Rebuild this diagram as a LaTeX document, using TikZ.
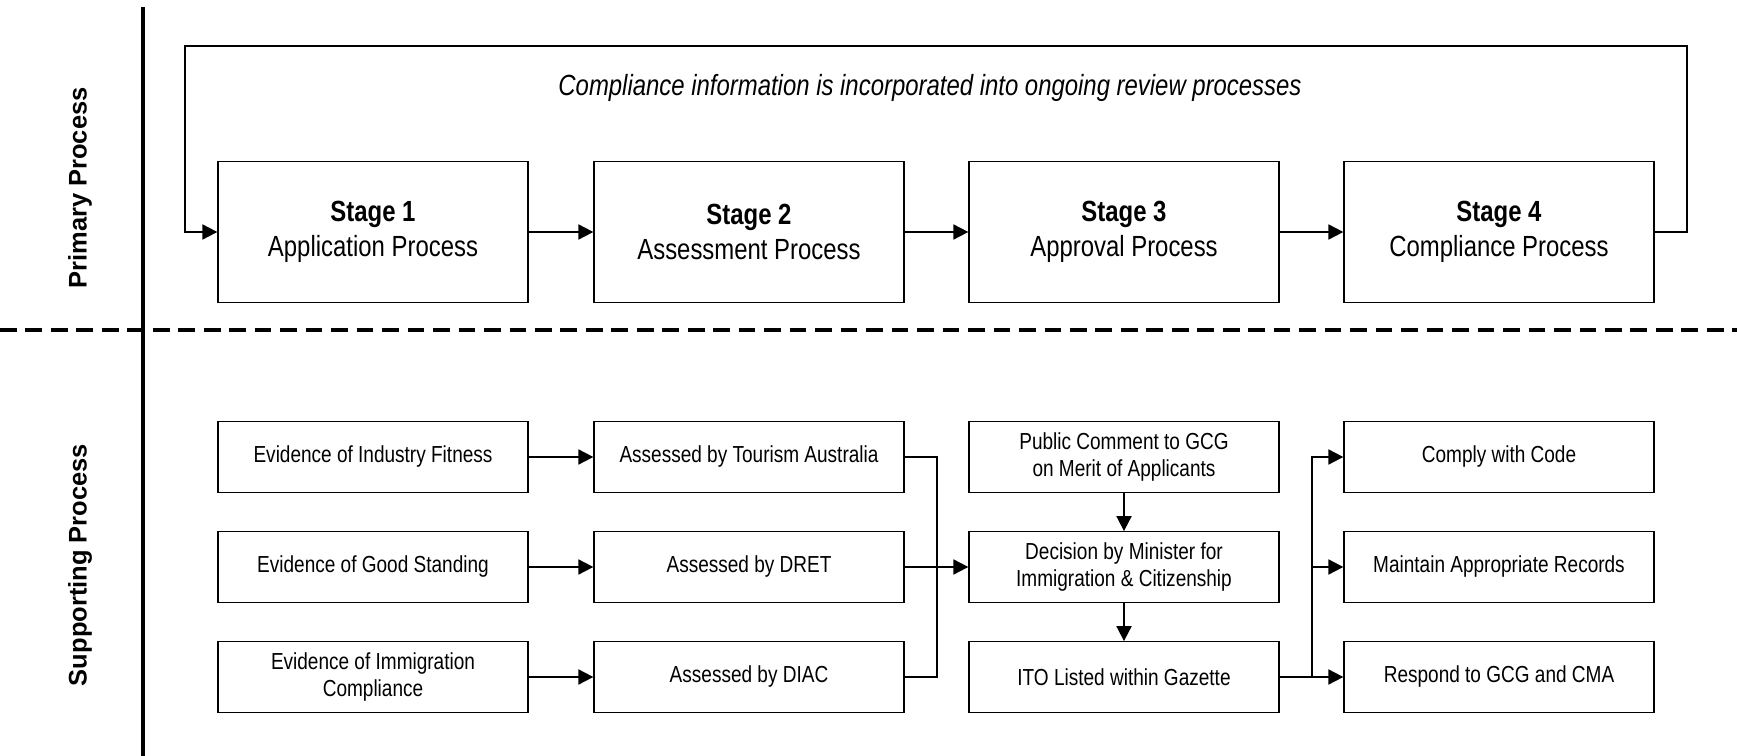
\documentclass[tikz,border=0pt]{standalone}
\usepackage{fontspec}
\setmainfont[FakeStretch=0.82]{Liberation Sans}
\newfontfamily\sidefont{Liberation Sans}
\usepackage{tikz}
\usetikzlibrary{arrows.meta}

\tikzset{
  stagebox/.style={draw=black, line width=0.8pt, minimum width=6.2cm, minimum height=2.82cm,
    align=center, font=\fontsize{16.6}{20}\selectfont},
  taskbox/.style={draw=black, line width=0.8pt, minimum width=6.2cm, minimum height=1.41cm,
    align=center, font=\fontsize{13.2}{15.8}\selectfont},
  link/.style={line width=0.8pt},
  flow/.style={link, -{Triangle[length=8.5pt, width=8.6pt]}},
  lane/.style={rotate=90, font=\sidefont\bfseries\fontsize{14.5}{17}\selectfont}
}

\begin{document}
\begin{tikzpicture}[x=0.02cm, y=-0.02cm]
		\useasboundingbox (0,0) rectangle (1737,756);
		% lanes
		\draw[line width=2.3pt] (143,7) -- (143,756);
		\draw[line width=2.3pt, dash pattern=on 9.5pt off 5pt] (0,330) -- (1737,330);
		\node[lane] (primary) at (80,188) {Primary Process};
		\node[lane] (support) at (80,565) {Supporting Process};
		% primary process
		\node[stagebox] (s1) at (373,232) {\textbf{Stage 1}\\Application Process};
		\node[stagebox] (s2) at (749,232) {\textbf{Stage 2}\\Assessment Process};
		\node[stagebox] (s3) at (1124,232) {\textbf{Stage 3}\\Approval Process};
		\node[stagebox] (s4) at (1499,232) {\textbf{Stage 4}\\Compliance Process};
		\draw[flow] (s1) -- (s2);
		\draw[flow] (s2) -- (s3);
		\draw[flow] (s3) -- (s4);
		\coordinate (loopR) at (1687,46);
		\coordinate (loopL) at (185,232);
		\draw[flow] (s4.east) -| (loopR) -| (loopL) -- (s1.west);
		\node[font=\itshape\fontsize{16.6}{20}\selectfont] (note) at (930,88)
			{Compliance information is incorporated into ongoing review processes};
		% supporting process
		\node[taskbox] (ev1) at (373,457) {Evidence of Industry Fitness};
		\node[taskbox] (ev2) at (373,567) {Evidence of Good Standing};
		\node[taskbox] (ev3) at (373,677) {Evidence of Immigration\\Compliance};
		\node[taskbox] (as1) at (749,457) {Assessed by Tourism Australia};
		\node[taskbox] (as2) at (749,567) {Assessed by DRET};
		\node[taskbox] (as3) at (749,677) {Assessed by DIAC};
		\node[taskbox] (pub) at (1124,457) {Public Comment to GCG\\on Merit of Applicants};
		\node[taskbox] (dec) at (1124,567) {Decision by Minister for\\Immigration \& Citizenship};
		\node[taskbox] (gaz) at (1124,677) {ITO Listed within Gazette};
		\node[taskbox] (code) at (1499,457) {Comply with Code};
		\node[taskbox] (rec) at (1499,567) {Maintain Appropriate Records};
		\node[taskbox] (resp) at (1499,677) {Respond to GCG and CMA};
		\draw[flow] (ev1) -- (as1);
		\draw[flow] (ev2) -- (as2);
		\draw[flow] (ev3) -- (as3);
		\coordinate (join) at (937,567);
		\draw[link] (as1.east) -| (join);
		\draw[link] (as3.east) -| (join);
		\draw[flow] (as2) -- (dec);
		\draw[flow] (pub) -- (dec);
		\draw[flow] (dec) -- (gaz);
		\coordinate (fork) at (1312,677);
		\draw[link] (gaz) -- (fork);
		\draw[flow] (fork) |- (code.west);
		\draw[flow] (fork) |- (rec.west);
		\draw[flow] (fork) -- (resp);
		\end{tikzpicture}
\end{document}
